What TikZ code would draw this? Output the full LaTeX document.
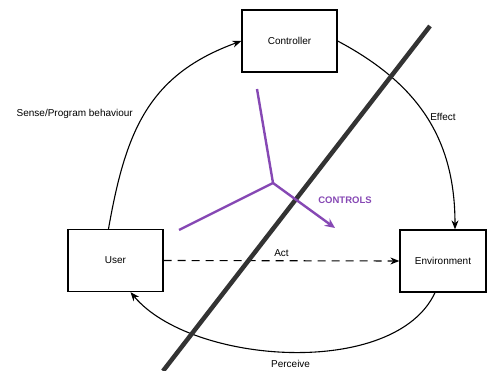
\documentclass[tikz,border=0pt]{standalone}
\usepackage{fontspec}
\setmainfont{Liberation Sans}
\usetikzlibrary{arrows.meta}
\definecolor{ctrlpurple}{RGB}{134,72,180}
\definecolor{dividergray}{RGB}{51,51,51}
\tikzset{
    block/.style={draw=black, line width=1.3pt, minimum width=95pt, minimum height=62pt, inner sep=0pt, font=\fontsize{10}{12}\selectfont},
    loop/.style={draw=black, line width=1.1pt, -{Stealth[length=9pt,width=7pt]}},
    tag/.style={font=\fontsize{10}{12}\selectfont},
    purpline/.style={draw=ctrlpurple, line width=2.4pt}
}

\begin{document}
\begin{tikzpicture}[x=1pt, y=-1pt]
    \useasboundingbox (0,0) rectangle (487,371);
    \node[block] (ctrl) at (289.5,41) {Controller};
    \node[block] (user) at (115.5,260.5) {User};
    \node[block, minimum width=86pt] (env) at (443,261) {Environment};
    \draw[loop] ([xshift=-7pt]user.north) to[out=80, in=200, looseness=1.1] node[tag, pos=0.485, left=8pt] {Sense/Program behaviour} (ctrl.west);
    \draw[loop] (ctrl.east) to[out=-28, in=90, looseness=1.05] node[tag, pos=0.5, right] {Effect} ([xshift=12pt]env.north);
    \draw[loop] ([xshift=-8pt]env.south) to[out=-115, in=-50, looseness=0.8] node[tag, below=4pt] {Perceive} ([xshift=15pt]user.south);
    \draw[loop, dash pattern=on 8pt off 6pt] (user.east) -- node[tag, above] {Act} (env.west);
    \draw[draw=dividergray, line width=4.5pt] (430,26) -- (163,371);
    \coordinate (hub) at (273,183);
    \draw[purpline] (hub) -- (257,89);
    \draw[purpline] (hub) -- (179,230);
    \draw[purpline, -{Stealth[length=10pt,width=9pt]}] (hub) -- (335,228);
    \node[font=\bfseries\fontsize{9.5}{11}\selectfont, text=ctrlpurple] (ctrllabel) at (345,200) {CONTROLS};
\end{tikzpicture}
\end{document}
